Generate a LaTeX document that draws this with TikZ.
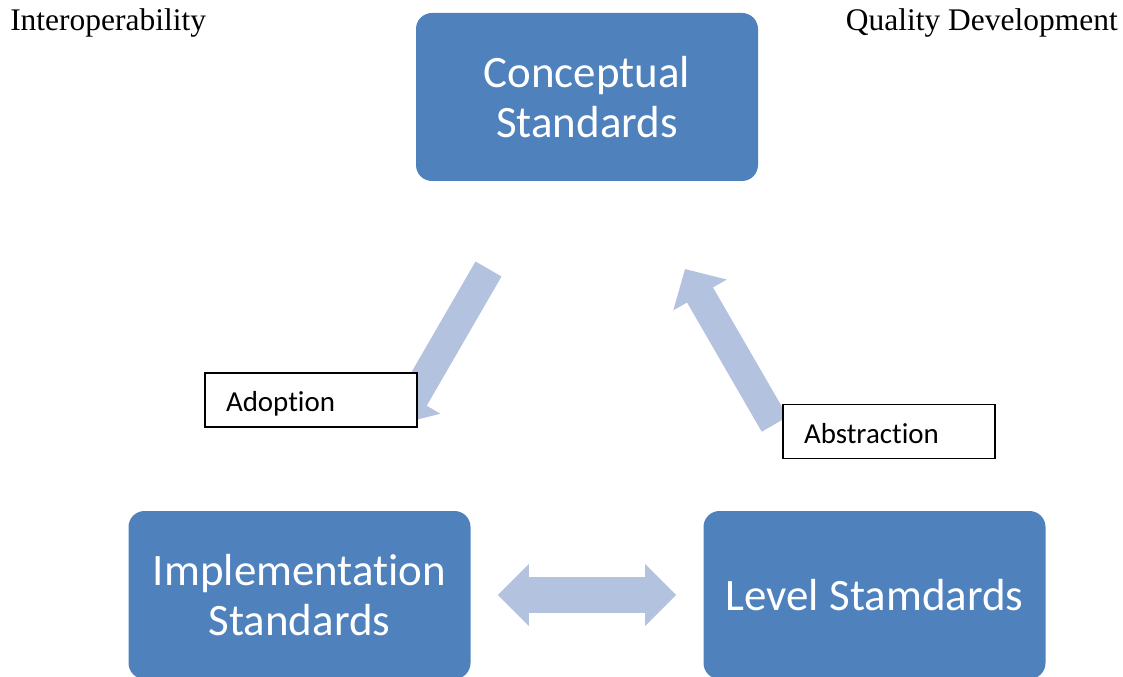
\documentclass[tikz,border=0pt]{standalone}
\usepackage{fontspec}
\usepackage{tikz}
\usetikzlibrary{arrows.meta,positioning,calc}
\setmainfont{Liberation Serif}
\newfontfamily\calib[Ligatures={NoCommon}]{Carlito}
\definecolor{boxblue}{RGB}{79,129,189}
\definecolor{flowblue}{RGB}{179,194,222}

\begin{document}
\begin{tikzpicture}[x=0.75pt,y=0.75pt,
    stdbox/.style={fill=boxblue,draw=none,rounded corners=12pt,text=white,
      minimum width=256.5pt,minimum height=126pt,align=center,
      font=\calib\fontsize{33.7pt}{37.5pt}\selectfont},
    tagbox/.style={draw=black,line width=1.1pt,fill=white,
      minimum width=159pt,minimum height=40.5pt,inner xsep=15.75pt,
      text width=127.5pt,align=left,text height=17.5pt,text depth=0pt,
      font=\calib\fontsize{21.7pt}{26pt}\selectfont},
    flow/.style={draw=flowblue,line width=22.5pt,
      -{Triangle[length=22.5pt,width=45pt]}},
    twoway/.style={draw=flowblue,line width=27pt,
      {Triangle[length=23.25pt,width=45pt]}-{Triangle[length=23.25pt,width=45pt]}}]
  \useasboundingbox (0,0) rectangle (1123,676);
  % corner titles
  \node[anchor=base west,inner sep=0pt,font=\fontsize{23.6pt}{28pt}\selectfont]
    (interop) at (10,645) {Interoperability};
  \node[anchor=base east,inner sep=0pt,font=\fontsize{23.6pt}{28pt}\selectfont]
    (quality) at (1118,645) {Quality Development};
  % the three kinds of standards
  \node[stdbox] (concept) at (587,579) {Conceptual\\Standards};
  \node[stdbox] (impl) at (299.5,81) {Implementation\\Standards};
  \node[stdbox] (level) at (874.5,81) {Level Stamdards};
  % flows between them
  \coordinate (adopt-s) at (488.5,407);
  \coordinate (adopt-e) at (398.7,251.8);
  \coordinate (abstr-s) at (774.7,251.8);
  \coordinate (abstr-e) at (685,407);
  \draw[flow] (adopt-s) -- (adopt-e);
  \draw[flow] (abstr-s) -- (abstr-e);
  \draw[twoway,shorten <=20.25pt,shorten >=20.25pt] (impl) -- (level);
  % labels
  \node[tagbox] (adopt) at (311,276) {Adoption};
  \node[tagbox] (abstr) at (889,244.5) {Abstraction};
\end{tikzpicture}
\end{document}
